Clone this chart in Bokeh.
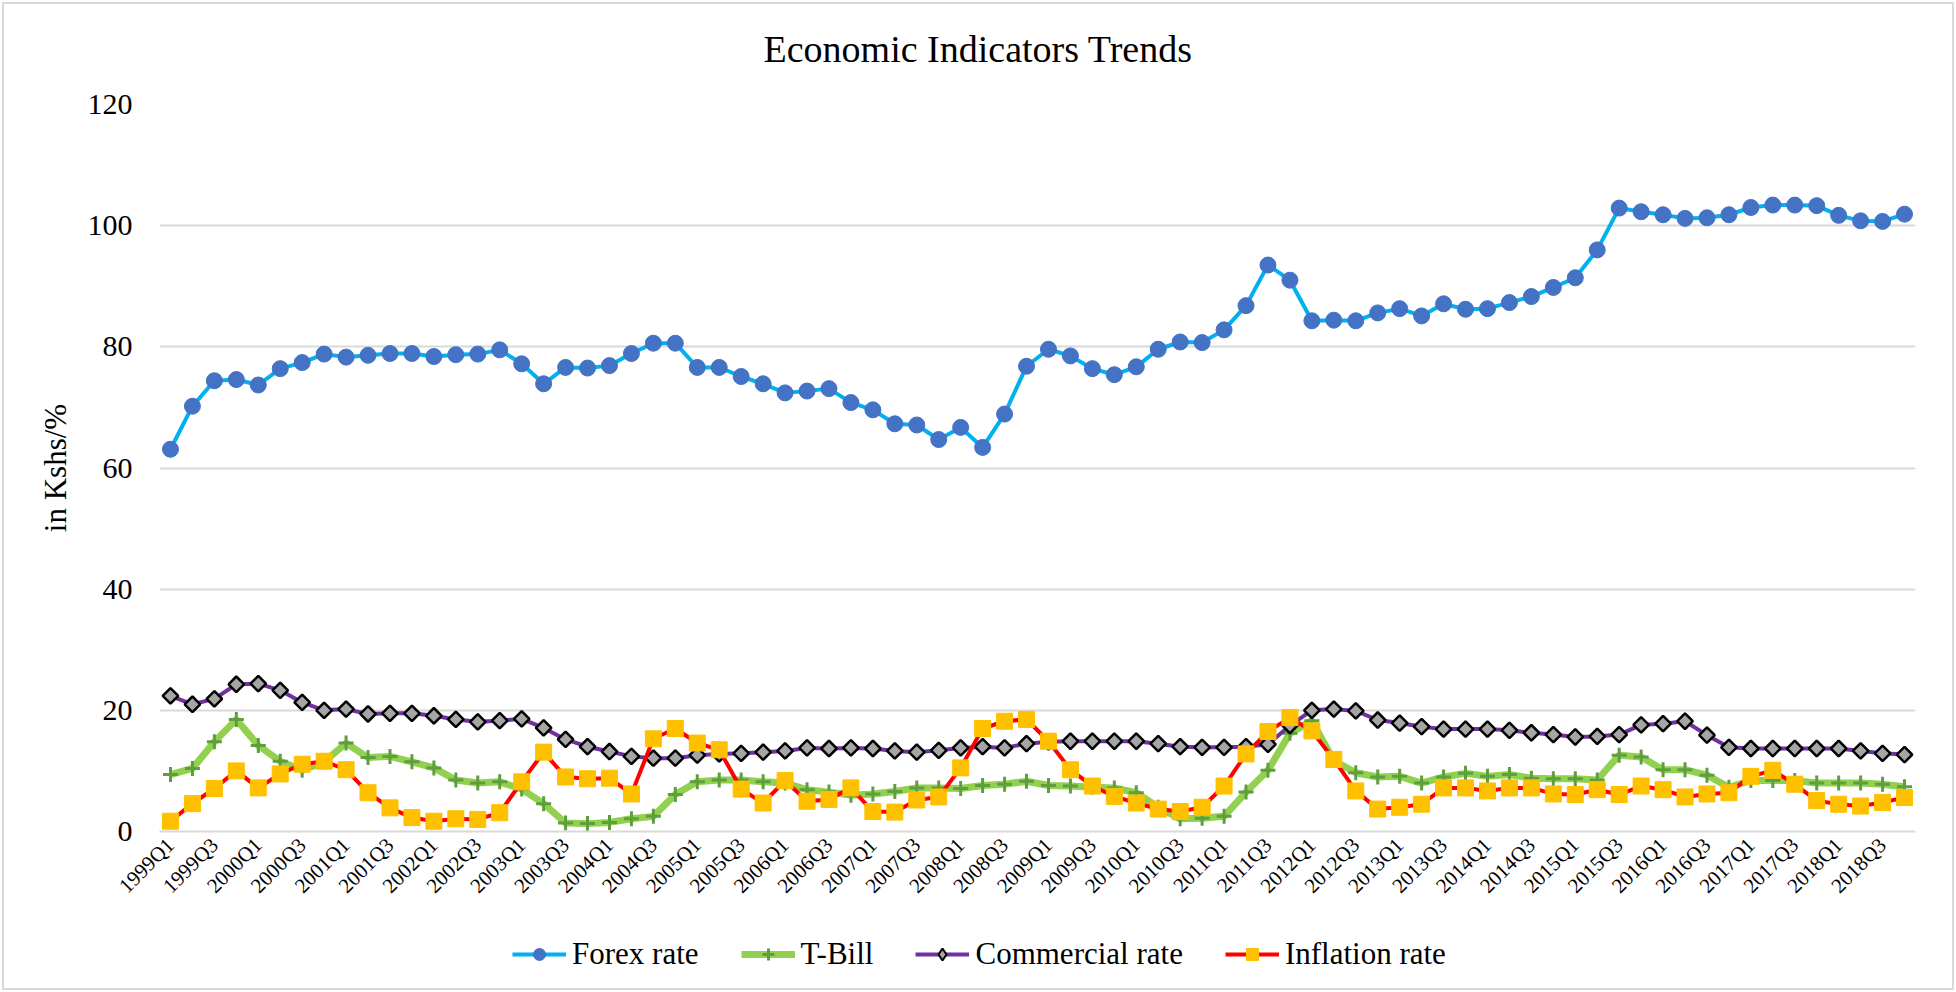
import math
from bokeh.plotting import figure
from bokeh.layouts import column
from bokeh.models import (Legend, LegendItem, FixedTicker, Range1d,
                          ColumnDataSource, Label)
from bokeh.embed import file_html
from bokeh.resources import INLINE

years = list(range(1999, 2019))
quarters = [f"{y}Q{q}" for y in years for q in (1, 2, 3, 4)]

forex = [63.1, 70.2, 74.4, 74.6, 73.7, 76.4, 77.4, 78.8, 78.3, 78.6,
         78.9, 78.9, 78.4, 78.7, 78.8, 79.5, 77.2, 73.9, 76.6, 76.5,
         76.9, 78.9, 80.6, 80.6, 76.6, 76.6, 75.1, 73.9, 72.4, 72.7,
         73.1, 70.8, 69.6, 67.3, 67.1, 64.7, 66.7, 63.4, 68.9, 76.8,
         79.6, 78.5, 76.4, 75.4, 76.7, 79.6, 80.8, 80.7, 82.8, 86.8,
         93.5, 91.0, 84.3, 84.4, 84.3, 85.6, 86.3, 85.1, 87.1, 86.2,
         86.3, 87.3, 88.3, 89.8, 91.4, 96.0, 102.9, 102.3, 101.8, 101.2,
         101.3, 101.8, 103.0, 103.4, 103.4, 103.3, 101.7, 100.8, 100.7, 101.9]

tbill = [9.4, 10.4, 14.8, 18.5, 14.2, 11.6, 10.1, 11.5, 14.6, 12.2,
         12.4, 11.5, 10.5, 8.5, 8.0, 8.2, 7.0, 4.6, 1.4, 1.3,
         1.5, 2.1, 2.5, 6.1, 8.2, 8.5, 8.5, 8.2, 8.0, 6.9,
         6.5, 6.0, 6.2, 6.6, 7.2, 7.2, 7.1, 7.6, 7.8, 8.3,
         7.6, 7.5, 7.3, 7.2, 6.4, 4.0, 2.1, 2.2, 2.5, 6.5,
         10.1, 16.2, 18.3, 11.7, 9.7, 9.0, 9.1, 8.0, 9.0, 9.6,
         9.1, 9.4, 8.8, 8.7, 8.7, 8.5, 12.6, 12.3, 10.2, 10.2,
         9.3, 7.3, 8.4, 8.4, 8.4, 8.0, 8.0, 8.0, 7.8, 7.4]

commercial = [22.4, 21.0, 21.9, 24.3, 24.4, 23.3, 21.3, 20.0, 20.2, 19.4,
              19.5, 19.5, 19.1, 18.5, 18.1, 18.3, 18.6, 17.1, 15.2, 14.0,
              13.2, 12.4, 12.1, 12.1, 12.6, 12.8, 12.9, 13.1, 13.3, 13.8,
              13.7, 13.8, 13.7, 13.3, 13.1, 13.4, 13.8, 14.0, 13.8, 14.5,
              14.8, 14.9, 14.9, 14.9, 14.9, 14.5, 14.0, 13.9, 13.9, 14.0,
              14.4, 17.5, 20.0, 20.2, 19.9, 18.4, 17.9, 17.3, 16.9, 16.9,
              16.9, 16.7, 16.3, 16.0, 15.6, 15.7, 16.0, 17.6, 17.8, 18.2,
              15.9, 13.9, 13.7, 13.7, 13.7, 13.7, 13.7, 13.3, 12.9, 12.7]

inflation = [1.7, 4.6, 7.1, 10.0, 7.2, 9.5, 11.1, 11.6, 10.2, 6.4,
             3.9, 2.3, 1.7, 2.1, 2.0, 3.1, 8.2, 13.1, 9.0, 8.7,
             8.8, 6.2, 15.3, 17.0, 14.6, 13.5, 7.0, 4.7, 8.4, 5.0,
             5.3, 7.2, 3.3, 3.2, 5.2, 5.7, 10.5, 17.0, 18.2, 18.5,
             14.9, 10.2, 7.5, 5.8, 4.7, 3.7, 3.3, 4.0, 7.5, 12.8,
             16.5, 18.8, 16.6, 11.9, 6.7, 3.7, 4.0, 4.5, 7.2, 7.2,
             6.7, 7.2, 7.2, 6.2, 6.1, 6.9, 6.1, 7.5, 6.9, 5.7,
             6.2, 6.4, 9.1, 10.1, 7.8, 5.1, 4.5, 4.2, 4.8, 5.6]

x = list(range(len(quarters)))
src = ColumnDataSource(dict(x=x, forex=forex, tbill=tbill,
                            commercial=commercial, inflation=inflation))

SERIF = "Liberation Serif"
TITLE = "Economic Indicators Trends"

STYLE = {
    "forex": dict(line=dict(line_color="#00B0F0", line_width=4),
                  marker=dict(marker="circle", size=16, fill_color="#4472C4",
                              line_color="#4472C4")),
    "tbill": dict(line=dict(line_color="#92D050", line_width=7),
                  marker=dict(marker="cross", size=15, line_color="#5E9E3C",
                              line_width=3)),
    "commercial": dict(line=dict(line_color="#7030A0", line_width=4),
                       marker=dict(marker="square", size=11, angle=math.pi / 4,
                                   fill_color="#A5A5A5", line_color="black",
                                   line_width=2.5)),
    "inflation": dict(line=dict(line_color="#FF0000", line_width=4),
                      marker=dict(marker="square", size=16, fill_color="#FFC000",
                                  line_color="#FFC000")),
}
names = ["Forex rate", "T-Bill", "Commercial rate", "Inflation rate"]
keys = ["forex", "tbill", "commercial", "inflation"]


def strip(height):
    f = figure(width=1956, height=height, output_backend="svg",
               toolbar_location=None, x_range=Range1d(0, 1),
               y_range=Range1d(0, 1), x_axis_type=None, y_axis_type=None,
               min_border=0, background_fill_alpha=0, border_fill_alpha=0)
    f.outline_line_color = None
    f.xgrid.visible = False
    f.ygrid.visible = False
    return f


# title strip
tt = strip(84)
tt.add_layout(Label(x=604, y=36, x_units="screen", y_units="screen",
                    text=TITLE, text_font=SERIF, text_font_size="38px",
                    text_color="black", text_align="left",
                    text_baseline="middle"))

# main chart
p = figure(frame_width=1756, frame_height=727, output_backend="svg",
           toolbar_location=None,
           x_range=Range1d(-0.5, len(quarters) - 0.5), y_range=Range1d(0, 120),
           min_border_left=159, min_border_right=41, min_border_top=20,
           min_border_bottom=95, background_fill_color="white",
           border_fill_alpha=0)
p.outline_line_color = None

p.xgrid.grid_line_color = None
p.ygrid.grid_line_color = "#D9D9D9"
p.ygrid.grid_line_width = 2
p.yaxis.ticker = FixedTicker(ticks=[0, 20, 40, 60, 80, 100, 120])

p.yaxis.axis_line_color = None
p.yaxis.major_tick_line_color = None
p.yaxis.minor_tick_line_color = None
p.yaxis.major_label_text_font = SERIF
p.yaxis.major_label_text_font_size = "30px"
p.yaxis.major_label_text_color = "black"
p.yaxis.major_label_standoff = 21
p.yaxis.axis_label = "in Kshs/%"
p.yaxis.axis_label_text_font = SERIF
p.yaxis.axis_label_text_font_size = "31px"
p.yaxis.axis_label_text_font_style = "normal"
p.yaxis.axis_label_text_color = "black"
p.yaxis.axis_label_standoff = 12

tick_idx = list(range(0, len(quarters), 2))
p.xaxis.ticker = FixedTicker(ticks=tick_idx)
p.xaxis.major_label_overrides = {i: quarters[i] for i in tick_idx}
p.xaxis.major_label_orientation = math.pi / 4
p.xaxis.axis_line_color = "#D9D9D9"
p.xaxis.axis_line_width = 2
p.xaxis.major_tick_line_color = None
p.xaxis.minor_tick_line_color = None
p.xaxis.major_label_text_font = SERIF
p.xaxis.major_label_text_font_size = "21px"
p.xaxis.major_label_text_color = "black"
p.xaxis.major_label_standoff = 4

for k in keys:
    p.line("x", k, source=src, **STYLE[k]["line"])
    p.scatter("x", k, source=src, **STYLE[k]["marker"])

# legend strip
lg = strip(66)
nan = float("nan")
items = []
for k, name in zip(keys, names):
    ln = lg.line(x=[nan], y=[nan], **STYLE[k]["line"])
    mk_style = dict(STYLE[k]["marker"])
    if k == "commercial":
        mk_style = dict(marker="diamond", size=19, fill_color="#A5A5A5",
                        line_color="black", line_width=2)
    mk = lg.scatter(x=[nan], y=[nan], **mk_style)
    items.append(LegendItem(label=name, renderers=[ln, mk]))

legend = Legend(items=items, orientation="horizontal", location=(353, 20))
legend.label_text_font = SERIF
legend.label_text_font_size = "31px"
legend.label_text_color = "black"
legend.border_line_color = None
legend.background_fill_alpha = 0
legend.glyph_width = 54
legend.glyph_height = 30
legend.spacing = 42
legend.label_standoff = 6
legend.margin = 0
legend.padding = 0
lg.add_layout(legend)

layout = column(tt, p, lg, spacing=0,
                styles={"outline": "2px solid #D9D9D9", "outline-offset": "-4px",
                        "background-color": "white"})

open("out.html", "w").write(file_html(layout, INLINE))
